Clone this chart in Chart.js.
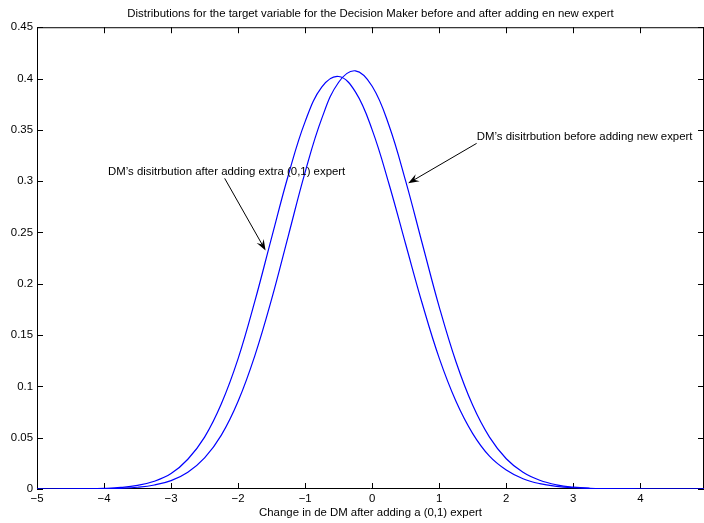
<!DOCTYPE html>
<html>
<head>
<meta charset="utf-8">
<script src="https://cdn.jsdelivr.net/npm/chart.js@4"></script>
<style>
  body { margin: 0; background: #fff; }
  canvas { display: block; }
</style>
</head>
<body>
<canvas id="dist-chart" width="704" height="523"></canvas>
<script>
// grid of x values (change in DM) and the two density curves
const xs = [-5, -4.75, -4.5, -4.25, -4, -3.75, -3.5, -3.25, -3, -2.75, -2.5, -2.25, -2, -1.75, -1.5, -1.25,
    -1, -0.75, -0.5, -0.25, 0, 0.25, 0.5, 0.75, 1, 1.25, 1.5, 1.75, 2, 2.25, 2.5, 2.75, 3, 3.25, 3.5, 3.75,
    4, 4.25, 4.5, 4.75, 4.95]

const before = [0, 0, 0, 0.0001, 0.0003, 0.0007, 0.0017, 0.0039, 0.0082, 0.0164, 0.0303, 0.0525, 0.0855, 0.1300, 0.1850, 0.2470,
    0.3088, 0.3614, 0.3964, 0.4075, 0.3925, 0.3545, 0.3000, 0.2385, 0.1775, 0.1240, 0.0815, 0.0505, 0.0295, 0.0163, 0.0085, 0.0041, 0.0018, 0.0007, 0.0003, 0.0001,
    0, 0, 0, 0, 0]

const after = [0, 0, 0.0001, 0.0002, 0.0006, 0.0015, 0.0035, 0.0075, 0.0150, 0.0290, 0.0505, 0.0830, 0.1270, 0.1830, 0.2450, 0.3060,
    0.3580, 0.3918, 0.4020, 0.3870, 0.3500, 0.2975, 0.2385, 0.1800, 0.1275, 0.0855, 0.0540, 0.0320, 0.0185, 0.0100, 0.0052, 0.0026, 0.0012, 0.0005, 0.0002, 0.0001,
    0, 0, 0, 0, 0]

const xTicks = [-5, -4, -3, -2, -1, 0, 1, 2, 3, 4]
const yTicks = [0, 0.05, 0.1, 0.15, 0.2, 0.25, 0.3, 0.35, 0.4, 0.45]

const titleText = 'Distributions for the target variable for the Decision Maker before and after adding en new expert'
const xTitle = 'Change in de DM after adding a (0,1) expert'

// text labels with arrows, in data coordinates
const notes = [
    { text: 'DM\u2019s disitrbution after adding extra (0,1) expert', tx: -3.94, ty: 0.3092, from: [-2.2, 0.3027], to: [-1.59, 0.2323] },
    { text: 'DM\u2019s disitrbution before adding new expert', tx: 1.56, ty: 0.3432, from: [1.558, 0.3368], to: [0.537, 0.2979] },
]

const FONT = 'Liberation Sans, Arial, Helvetica, sans-serif'
const SIZE = 11.4

function points(values) {
    return xs.map((x, i) => ({ x: x, y: values[i] }))
}

function fmt(v) {
    const s = String(+v.toFixed(2))
    return v < 0 ? '\u2212' + s.slice(1) : s
}

// box round the axes with matlab-style inward ticks
const frame = {
    id: 'frame',
    beforeDatasetsDraw(chart) {
        const { ctx, chartArea: a, scales: { x, y } } = chart
        ctx.save()
        ctx.strokeStyle = '#000'
        ctx.lineWidth = 1
        ctx.beginPath()
        ctx.rect(a.left + 0.5, a.top + 0.5, a.right - a.left - 1, a.bottom - a.top - 1)
        xTicks.forEach(v => {
            const px = Math.round(x.getPixelForValue(v)) + 0.5
            ctx.moveTo(px, a.bottom)
            ctx.lineTo(px, a.bottom - 6)
            ctx.moveTo(px, a.top)
            ctx.lineTo(px, a.top + 6)
        })
        yTicks.forEach(v => {
            const py = Math.round(y.getPixelForValue(v)) + 0.5
            ctx.moveTo(a.left, py)
            ctx.lineTo(a.left + 6, py)
            ctx.moveTo(a.right, py)
            ctx.lineTo(a.right - 6, py)
        })
        ctx.stroke()
        ctx.restore()
    }
}

const annotate = {
    id: 'annotate',
    afterDatasetsDraw(chart) {
        const { ctx, scales: { x, y } } = chart
        ctx.save()
        ctx.fillStyle = '#000'
        ctx.strokeStyle = '#000'
        ctx.font = SIZE + 'px ' + FONT
        ctx.textBaseline = 'middle'
        ctx.textAlign = 'left'
        notes.forEach(n => {
            ctx.fillText(n.text, x.getPixelForValue(n.tx), y.getPixelForValue(n.ty))
            const x0 = x.getPixelForValue(n.from[0]), y0 = y.getPixelForValue(n.from[1])
            const x1 = x.getPixelForValue(n.to[0]), y1 = y.getPixelForValue(n.to[1])
            const ang = Math.atan2(y1 - y0, x1 - x0)
            const len = 11, half = 4
            ctx.lineWidth = 1
            ctx.beginPath()
            ctx.moveTo(x0, y0)
            ctx.lineTo(x1 - Math.cos(ang) * 6, y1 - Math.sin(ang) * 6)
            ctx.stroke()
            // arrow head
            const bx = x1 - Math.cos(ang) * len, by = y1 - Math.sin(ang) * len
            const nx = -Math.sin(ang) * half, ny = Math.cos(ang) * half
            ctx.beginPath()
            ctx.moveTo(x1, y1)
            ctx.lineTo(bx + nx, by + ny)
            ctx.lineTo(x1 - Math.cos(ang) * 7, y1 - Math.sin(ang) * 7)
            ctx.lineTo(bx - nx, by - ny)
            ctx.closePath()
            ctx.fill()
        })
        ctx.restore()
    }
}

const lineStyle = {
    borderColor: 'rgb(0, 0, 255)',
    borderWidth: 1.2,
    pointRadius: 0,
    fill: false,
    tension: 0.4,
}

const chart = new Chart(document.getElementById('dist-chart').getContext('2d'), {
    type: 'line',
    data: {
        datasets: [
            { label: 'before', data: points(before), ...lineStyle },
            { label: 'after', data: points(after), ...lineStyle },
        ]
    },
    options: {
        responsive: false,
        animation: false,
        events: [],
        layout: { padding: { left: 0, right: 0, top: 0, bottom: 0 } },
        plugins: {
            legend: { display: false },
            tooltip: { enabled: false },
            title: {
                display: true,
                text: titleText,
                fullSize: false,
                color: '#000',
                font: { family: FONT, size: SIZE, weight: 'normal', lineHeight: 1.16 },
                padding: { top: 7, bottom: 7 },
            },
        },
        scales: {
            x: {
                type: 'linear',
                min: -5,
                max: 4.95,
                grid: { display: false, drawTicks: false },
                border: { display: false },
                afterBuildTicks: s => { s.ticks = xTicks.map(v => ({ value: v })) },
                afterFit: s => { s.height = 34 },
                ticks: {
                    color: '#000',
                    padding: 3,
                    maxRotation: 0,
                    autoSkip: false,
                    font: { family: FONT, size: SIZE },
                    callback: v => fmt(v),
                },
                title: {
                    display: true,
                    text: xTitle,
                    color: '#000',
                    font: { family: FONT, size: SIZE },
                    padding: { top: 0, bottom: 3 },
                },
            },
            y: {
                type: 'linear',
                min: 0,
                max: 0.45,
                grid: { display: false, drawTicks: false },
                border: { display: false },
                afterBuildTicks: s => { s.ticks = yTicks.map(v => ({ value: v })) },
                afterFit: s => { s.width = 37 },
                ticks: {
                    color: '#000',
                    padding: 4,
                    autoSkip: false,
                    font: { family: FONT, size: SIZE },
                    callback: v => fmt(v),
                },
            },
        },
    },
    plugins: [frame, annotate],
});
</script>
</body>
</html>
